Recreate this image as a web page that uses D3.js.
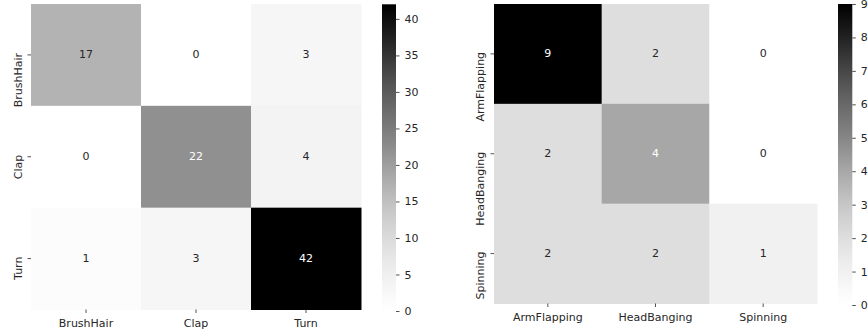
<!DOCTYPE html>
<html>
<head>
<meta charset="utf-8">
<script src="https://cdn.jsdelivr.net/npm/d3@7"></script>
<style>
  html, body { margin: 0; padding: 0; background: #fff; }
  svg { display: block; }
  text { font-family: "DejaVu Sans", sans-serif; }
</style>
</head>
<body>
<svg id="chart" width="868" height="335"></svg>
<script>
// ---- Data ----
const leftLabels = ["BrushHair", "Clap", "Turn"];
const leftValues = [
  [17, 0, 3],
  [0, 22, 4],
  [1, 3, 42]
];
const leftTicks = [0, 5, 10, 15, 20, 25, 30, 35, 40];

const rightLabels = ["ArmFlapping", "HeadBanging", "Spinning"];
const rightValues = [
  [9, 2, 0],
  [2, 4, 0],
  [2, 2, 1]
];
const rightTicks = [0, 1, 2, 3, 4, 5, 6, 7, 8, 9];

const svg = d3.select("#chart");
const fontSize = 11;
const textDark = "#262626";

function luminance(c) {
  const rgb = d3.rgb(c);
  const f = v => { v /= 255; return v <= 0.03928 ? v / 12.92 : Math.pow((v + 0.055) / 1.055, 2.4); };
  return 0.2126 * f(rgb.r) + 0.7152 * f(rgb.g) + 0.0722 * f(rgb.b);
}

function heatmap(cfg) {
  const { labels, values, ticks, x0, x1, y0, y1, cb, id, ylabX } = cfg;
  const vmax = d3.max(values.flat());
  const color = d3.scaleSequential(d3.interpolateGreys).domain([0, vmax]);
  const x = d3.scaleBand().domain(labels).range([x0, x1]);
  const y = d3.scaleBand().domain(labels).range([y0, y1]);
  const g = svg.append("g");

  const cells = [];
  values.forEach((row, i) => row.forEach((v, j) => cells.push({ r: labels[i], c: labels[j], v })));

  g.selectAll("rect.cell").data(cells).enter().append("rect")
    .attr("x", d => x(d.c)).attr("y", d => y(d.r))
    .attr("width", x.bandwidth() + 0.5).attr("height", y.bandwidth() + 0.5)
    .attr("fill", d => color(d.v));

  g.selectAll("text.ann").data(cells).enter().append("text")
    .attr("x", d => x(d.c) + x.bandwidth() / 2)
    .attr("y", d => y(d.r) + y.bandwidth() / 2)
    .attr("text-anchor", "middle").attr("dominant-baseline", "central")
    .attr("font-size", fontSize)
    .attr("fill", d => luminance(color(d.v)) > 0.408 ? textDark : "#ffffff")
    .text(d => d.v);

  // x axis
  const xa = g.append("g").attr("transform", `translate(0,${y1})`)
    .call(d3.axisBottom(x).tickSize(3.5).tickPadding(6));
  xa.select(".domain").remove();
  xa.selectAll("line").attr("stroke", textDark).attr("stroke-width", 0.8);
  xa.selectAll("text").attr("font-size", fontSize).attr("fill", textDark)
    .attr("font-family", "DejaVu Sans, sans-serif");

  // y axis (rotated labels)
  const ya = g.append("g").attr("transform", `translate(${x0},0)`)
    .call(d3.axisLeft(y).tickSize(3.5));
  ya.select(".domain").remove();
  ya.selectAll("line").attr("stroke", textDark).attr("stroke-width", 0.8);
  ya.selectAll("text").remove();
  ya.selectAll(".tick").append("text")
    .attr("transform", `translate(${ylabX - x0},-2) rotate(-90)`)
    .attr("text-anchor", "end")
    .attr("font-size", fontSize).attr("fill", textDark)
    .attr("font-family", "DejaVu Sans, sans-serif")
    .text(d => d);

  // colorbar
  const gradId = "grad" + id;
  const grad = svg.append("defs").append("linearGradient").attr("id", gradId)
    .attr("x1", 0).attr("y1", 1).attr("x2", 0).attr("y2", 0);
  d3.range(0, 1.0001, 0.05).forEach(t => {
    grad.append("stop").attr("offset", t).attr("stop-color", d3.interpolateGreys(t));
  });
  g.append("rect").attr("x", cb.x0).attr("y", cb.y0)
    .attr("width", cb.x1 - cb.x0).attr("height", cb.y1 - cb.y0)
    .attr("fill", `url(#${gradId})`);
  const cy = d3.scaleLinear().domain([0, vmax]).range([cb.y1, cb.y0]);
  const ca = g.append("g").attr("transform", `translate(${cb.x1},0)`)
    .call(d3.axisRight(cy).tickValues(ticks).tickSize(3.5).tickPadding(5).tickFormat(d3.format("d")));
  ca.select(".domain").remove();
  ca.selectAll("line").attr("stroke", textDark).attr("stroke-width", 0.8);
  ca.selectAll("text").attr("font-size", fontSize).attr("fill", textDark)
    .attr("font-family", "DejaVu Sans, sans-serif");
}

heatmap({
  id: "L", labels: leftLabels, values: leftValues, ticks: leftTicks,
  x0: 31, x1: 361, y0: 4, y1: 309.5, ylabX: 22,
  cb: { x0: 382, x1: 396, y0: 4.3, y1: 311 }
});
heatmap({
  id: "R", labels: rightLabels, values: rightValues, ticks: rightTicks,
  x0: 494, x1: 817, y0: 4, y1: 303.5, ylabX: 484,
  cb: { x0: 838, x1: 852.3, y0: 4, y1: 305 }
});
</script>
</body>
</html>
